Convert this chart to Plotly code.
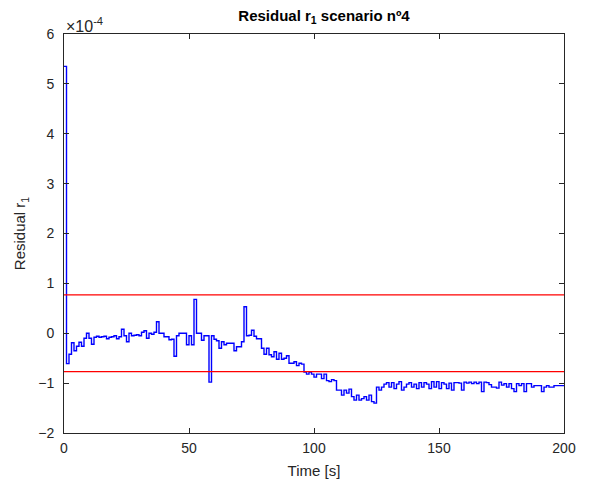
import plotly.graph_objects as go

# residual r1, sampled every second, in units of 1e-4
time_s = list(range(0, 201))
residual_r1 = [
    5.35, -0.61, -0.42, -0.19, -0.35, -0.26, -0.18, -0.26, -0.10, 0.00,
    -0.10, -0.22, -0.08, -0.06, -0.08, -0.07, -0.06, -0.11, -0.08, -0.07,
    -0.05, -0.11, -0.07, 0.08, -0.05, -0.17, 0.00, -0.05, -0.04, -0.03,
    -0.05, 0.02, 0.05, -0.10, 0.00, -0.02, 0.02, 0.23, 0.00, 0.00,
    -0.07, -0.07, -0.13, -0.12, -0.46, -0.05, 0.00, 0.00, 0.00, -0.23,
    -0.05, -0.23, 0.68, 0.00, 0.00, -0.14, -0.05, -0.05, -0.98, -0.05,
    -0.12, -0.15, -0.30, -0.17, -0.23, -0.20, -0.20, -0.20, -0.35, -0.27,
    -0.27, -0.17, 0.53, -0.05, -0.04, 0.06, -0.06, -0.11, -0.11, -0.30,
    -0.42, -0.30, -0.43, -0.47, -0.37, -0.52, -0.40, -0.52, -0.50, -0.45,
    -0.60, -0.60, -0.57, -0.65, -0.60, -0.62, -0.78, -0.82, -0.78, -0.82,
    -0.88, -0.82, -0.82, -0.91, -0.82, -0.95, -0.97, -0.93, -0.95, -1.14,
    -1.14, -1.24, -1.14, -1.20, -1.12, -1.27, -1.34, -1.24, -1.34, -1.31,
    -1.27, -1.34, -1.24, -1.37, -1.40, -1.08, -1.14, -1.08, -1.02, -0.99,
    -1.08, -0.99, -1.11, -1.02, -0.97, -1.14, -1.08, -1.02, -0.99, -1.08,
    -1.02, -1.11, -0.99, -1.08, -0.99, -1.02, -1.11, -0.97, -1.08, -0.97,
    -1.11, -0.99, -1.02, -1.11, -1.00, -1.14, -0.99, -0.99, -1.00, -1.14,
    -0.98, -1.00, -0.98, -1.01, -0.98, -1.01, -0.98, -1.17, -0.98, -0.99,
    -1.03, -1.08, -1.08, -1.10, -0.98, -1.04, -1.01, -1.08, -1.01, -1.11,
    -1.17, -1.01, -1.05, -1.01, -1.17, -1.01, -1.01, -1.08, -1.05, -1.05,
    -1.05, -1.17, -1.08, -1.05, -1.08, -1.08, -1.05, -1.05, -1.05, -1.05,
    -1.05,
]
threshold = 0.77
x_ticks = [0, 50, 100, 150, 200]
y_ticks = [-2, -1, 0, 1, 2, 3, 4, 5, 6]

font = "Liberation Sans, Arial, sans-serif"
axis_col = "#262626"

fig = go.Figure()
fig.add_trace(go.Scatter(x=time_s, y=residual_r1, mode="lines", line_shape="hv",
                         line=dict(color="#0000FF", width=1.4), showlegend=False))
for lvl in (threshold, -threshold):
    fig.add_trace(go.Scatter(x=[time_s[0], time_s[-1]], y=[lvl, lvl], mode="lines",
                             line=dict(color="#FF0000", width=1.4), showlegend=False))

axis_style = dict(showline=True, mirror="ticks", linecolor=axis_col, linewidth=1,
                  ticks="inside", ticklen=5, tickcolor=axis_col, showgrid=False,
                  zeroline=False, tickfont=dict(family=font, size=14, color=axis_col))

fig.update_xaxes(range=[0, 200], tickvals=x_ticks, ticklabelstandoff=2,
                 title=dict(text="Time [s]", font=dict(family=font, size=15, color=axis_col), standoff=10),
                 **axis_style)
fig.update_yaxes(range=[-2, 6], tickvals=y_ticks, ticklabelstandoff=6,
                 title=dict(text="Residual r<sub>1</sub>", font=dict(family=font, size=15, color=axis_col), standoff=8),
                 **axis_style)

fig.add_annotation(text="×10<sup>-4</sup>", xref="paper", yref="paper", x=0, y=1,
                   xanchor="left", yanchor="bottom", showarrow=False, yshift=-3,
                   font=dict(family=font, size=16, color=axis_col))

# page has an 8px body margin, so the figure is 16px smaller than the window
fig.update_layout(
    width=579, height=471,
    margin=dict(l=56, r=23, t=26, b=46, autoexpand=False),
    paper_bgcolor="white", plot_bgcolor="white",
    title=dict(text="<b>Residual r<sub>1</sub> scenario nº4</b>", x=0.5458, xanchor="center",
               y=1.0, yanchor="top", pad=dict(t=2),
               font=dict(family=font, size=15, color="black")),
)

fig.write_html("out.html")
